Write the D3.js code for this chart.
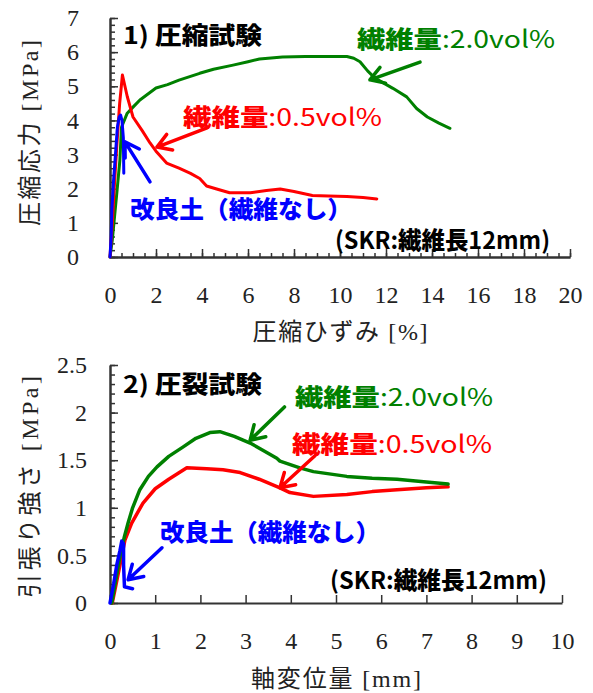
<!DOCTYPE html>
<html><head><meta charset="utf-8">
<script src="https://cdn.jsdelivr.net/npm/d3@7"></script>
<style>body{margin:0;background:#fff}svg{display:block}</style>
</head><body><svg id="c" width="593" height="693"></svg>
<script>
// ---------- DATA ----------
// 1) 圧縮試験 : [strain %, stress MPa]
const compGreen = [[0,0],[0.1,0.5],[0.2,1.2],[0.3,1.9],[0.43,2.84],[0.5,3.8],[0.74,4.2],[1.0,4.39],[1.3,4.6],[2.0,4.95],[2.5,5.05],[3.0,5.18],[3.9,5.38],[4.5,5.5],[5.35,5.62],[6.0,5.72],[6.5,5.8],[7.0,5.83],[7.5,5.86],[8.5,5.87],[9.5,5.87],[10.3,5.87],[10.6,5.82],[10.87,5.72],[11.2,5.45],[11.52,5.24],[12.3,4.94],[12.9,4.69],[13.33,4.35],[13.8,4.1],[14.3,3.92],[14.78,3.77]];
const compRed = [[0,0],[0.1,1.0],[0.2,2.2],[0.3,3.3],[0.42,4.5],[0.54,5.33],[0.75,4.7],[1.0,4.1],[1.4,3.7],[1.74,3.34],[2.0,3.1],[2.46,2.75],[3.0,2.6],[3.5,2.45],[3.9,2.3],[4.2,2.08],[4.6,2.0],[5.2,1.88],[6.1,1.88],[6.8,1.95],[7.4,1.99],[8.0,1.92],[8.8,1.8],[9.5,1.79],[10.3,1.77],[11.0,1.74],[11.6,1.7]];
const compBlue = [[0,0],[0.05,0.6],[0.08,1.37],[0.15,2.2],[0.22,2.84],[0.32,3.8],[0.4,4.1],[0.46,4.16],[0.52,4.0],[0.58,3.5],[0.6,2.45]];
const compXTicks = [0,2,4,6,8,10,12,14,16,18,20];
const compYTicks = [0,1,2,3,4,5,6,7];

// 2) 圧裂試験 : [displacement mm, tensile strength MPa]
const splitGreen = [[0.04,0],[0.12,0.22],[0.22,0.49],[0.32,0.7],[0.4,0.84],[0.5,1.0],[0.66,1.19],[0.85,1.33],[1.04,1.43],[1.3,1.54],[1.62,1.64],[1.9,1.73],[2.21,1.79],[2.43,1.8],[2.75,1.75],[3.1,1.68],[3.4,1.6],[3.69,1.52],[3.76,1.49],[4.2,1.42],[4.5,1.38],[5.24,1.33],[5.8,1.31],[6.35,1.3],[7.0,1.27],[7.48,1.25]];
const splitRed = [[0.05,0],[0.2,0.35],[0.33,0.66],[0.48,0.84],[0.73,1.05],[1.0,1.2],[1.3,1.3],[1.7,1.42],[2.14,1.41],[2.5,1.4],[2.88,1.37],[3.3,1.3],[3.76,1.21],[3.98,1.16],[4.5,1.12],[5.24,1.14],[5.8,1.17],[6.35,1.19],[7.0,1.21],[7.48,1.22]];
const splitBlue = [[0,0],[0.08,0.2],[0.15,0.4],[0.22,0.55],[0.26,0.65],[0.3,0.62],[0.3,0.4],[0.32,0.17],[0.5,0.15]];
const splitXTicks = [0,1,2,3,4,5,6,7,8,9,10];
const splitYTicks = [0,0.5,1,1.5,2,2.5];

// arrows in data units: [tailX, tailY, tipX, tipY]
const compArrows = {green:[13.48,5.71,11.3,5.19], red:[4.22,3.78,2.04,3.22], blue:[1.74,2.2,0.65,3.37]};
const splitArrows = {green:[3.86,2.06,3.1,1.71], red:[4.54,1.55,3.76,1.21], blue:[1.15,0.58,0.4,0.245]};

const COL = {green:"#008000", red:"#ff0000", blue:"#0000ff", black:"#000"};
const JP = "'Noto Sans CJK JP', sans-serif";
const SERIF = "'Liberation Serif', 'Noto Sans CJK JP', serif";

const svg = d3.select("#c");

function drawPanel(cfg) {
  const g = svg.append("g");
  const x = d3.scaleLinear().domain([0, cfg.xMax]).range([cfg.left, cfg.right]);
  const y = d3.scaleLinear().domain([0, cfg.yMax]).range([cfg.bottom, cfg.top]);

  // minor ticks
  g.append("g").attr("transform", `translate(${cfg.left},0)`)
    .call(d3.axisLeft(y).tickValues(d3.range(0, cfg.yMax + 1e-9, cfg.yMinor)).tickSize(-5).tickSizeOuter(0).tickFormat(""));
  if (cfg.xMinor) g.append("g").attr("transform", `translate(0,${cfg.bottom})`)
    .call(d3.axisBottom(x).tickValues(d3.range(0, cfg.xMax + 1e-9, cfg.xMinor)).tickSize(-4).tickSizeOuter(0).tickFormat(""));
  // major ticks + labels
  g.append("g").attr("transform", `translate(${cfg.left},0)`)
    .call(d3.axisLeft(y).tickValues(cfg.yTicks).tickSize(-8).tickSizeOuter(0).tickPadding(cfg.yPad).tickFormat(d => d));
  g.append("g").attr("transform", `translate(0,${cfg.bottom})`)
    .call(d3.axisBottom(x).tickValues(cfg.xTicks).tickSize(-8).tickSizeOuter(0).tickPadding(cfg.xPad).tickFormat(d => d));
  g.selectAll(".domain").attr("stroke", "#333").attr("stroke-width", 2);
  g.selectAll(".tick line").attr("stroke", "#333").attr("stroke-width", 1.5);
  g.selectAll(".tick text").style("font-family", SERIF).style("font-size", "24px").attr("fill", "#222");

  // axis titles
  g.append("text").attr("x", (cfg.left + cfg.right) / 2).attr("y", cfg.xTitleY)
    .attr("text-anchor", "middle").attr("dominant-baseline", "central")
    .style("font-family", SERIF).style("font-size", "24px").attr("fill", "#222")
    .attr("textLength", cfg.xTitleW).attr("lengthAdjust", "spacing")
    .text(cfg.xTitle);
  g.append("text").attr("transform", `translate(${cfg.yTitleX},${cfg.yTitleC}) rotate(-90)`)
    .attr("text-anchor", "middle").attr("dominant-baseline", "central")
    .style("font-family", SERIF).style("font-size", "24px").attr("fill", "#222")
    .attr("textLength", cfg.yTitleW).attr("lengthAdjust", "spacing")
    .text(cfg.yTitle);

  const line = d3.line().x(d => x(d[0])).y(d => y(d[1]));
  cfg.series.forEach(s => {
    g.append("path").datum(s.data).attr("d", line).attr("fill", "none")
      .attr("stroke", COL[s.color]).attr("stroke-width", cfg.lw)
      .attr("stroke-linejoin", "round").attr("stroke-linecap", "round");
  });

  // arrows
  Object.entries(cfg.arrows).forEach(([c, a]) => {
    const x0 = x(a[0]), y0 = y(a[1]), x1 = x(a[2]), y1 = y(a[3]);
    const ang = Math.atan2(y0 - y1, x0 - x1), L = 16, sp = 0.55;
    const p = d3.path();
    p.moveTo(x0, y0); p.lineTo(x1, y1);
    p.moveTo(x1 + L * Math.cos(ang + sp), y1 + L * Math.sin(ang + sp));
    p.lineTo(x1, y1);
    p.lineTo(x1 + L * Math.cos(ang - sp), y1 + L * Math.sin(ang - sp));
    g.append("path").attr("d", p.toString()).attr("fill", "none").attr("stroke", COL[c])
      .attr("stroke-width", 3.5).attr("stroke-linecap", "round").attr("stroke-linejoin", "round");
  });

  // labels
  cfg.labels.forEach(l => {
    const t = g.append("text").attr("x", l.x).attr("y", l.y).attr("dominant-baseline", "central")
      .style("font-family", JP).style("font-size", (l.size || 24) + "px").attr("fill", COL[l.color])
      .attr("textLength", l.w).attr("lengthAdjust", "spacingAndGlyphs");
    l.parts.forEach(pt => {
      t.append("tspan").attr("font-weight", pt[1]).text(pt[0]);
    });
  });
}

drawPanel({
  left: 110, right: 570, top: 18, bottom: 257, xMax: 20, yMax: 7,
  xTicks: compXTicks, yTicks: compYTicks, xMinor: 0.5, yMinor: 0.2,
  yPad: 31, xPad: 29, xTitleY: 332, xTitleW: 175, yTitleX: 30, yTitleC: 133, yTitleW: 186,
  xTitle: "圧縮ひずみ [%]", yTitle: "圧縮応力 [MPa]", lw: 3,
  series: [{data: compGreen, color: "green"}, {data: compRed, color: "red"}, {data: compBlue, color: "blue"}],
  arrows: compArrows,
  labels: [
    {parts: [["1) ", 700], ["圧縮試験", 900]], x: 123, y: 33, w: 139, color: "black"},
    {parts: [["繊維量", 900], [":2.0vol%", 400]], x: 357, y: 37, w: 198, color: "green"},
    {parts: [["繊維量", 900], [":0.5vol%", 400]], x: 183, y: 115, w: 199, color: "red"},
    {parts: [["改良土（繊維なし）", 900]], x: 130, y: 207, w: 222, color: "blue"},
    {parts: [["(SKR:", 700], ["繊維長", 900], ["12mm)", 700]], x: 335, y: 238, w: 215, color: "black"}
  ]
});

drawPanel({
  left: 110, right: 562, top: 365, bottom: 603, xMax: 10, yMax: 2.5,
  xTicks: splitXTicks, yTicks: splitYTicks, xMinor: null, yMinor: 0.1,
  yPad: 23, xPad: 29, xTitleY: 679, xTitleW: 170, yTitleX: 30, yTitleC: 487, yTitleW: 222,
  xTitle: "軸変位量 [mm]", yTitle: "引張り強さ [MPa]", lw: 3.5,
  series: [{data: splitRed, color: "red"}, {data: splitGreen, color: "green"}, {data: splitBlue, color: "blue"}],
  arrows: splitArrows,
  labels: [
    {parts: [["2) ", 700], ["圧裂試験", 900]], x: 123, y: 382, w: 139, color: "black"},
    {parts: [["繊維量", 900], [":2.0vol%", 400]], x: 295, y: 395, w: 198, color: "green"},
    {parts: [["繊維量", 900], [":0.5vol%", 400]], x: 292, y: 442, w: 200, color: "red"},
    {parts: [["改良土（繊維なし）", 900]], x: 160, y: 530, w: 220, color: "blue"},
    {parts: [["(SKR:", 700], ["繊維長", 900], ["12mm)", 700]], x: 330, y: 578, w: 217, color: "black"}
  ]
});
</script></body></html>
